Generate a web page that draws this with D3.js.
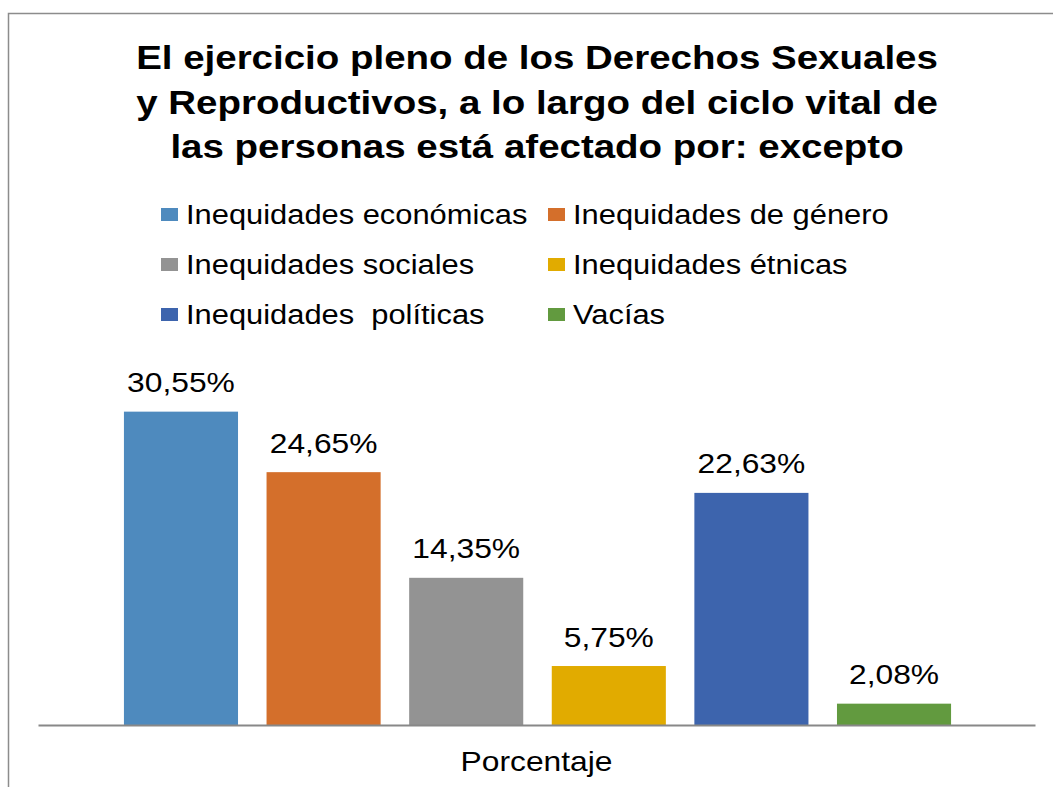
<!DOCTYPE html>
<html>
<head>
<meta charset="utf-8">
<script src="https://cdnjs.cloudflare.com/ajax/libs/d3/7.8.5/d3.min.js"></script>
<style>
  html, body { margin: 0; padding: 0; background: #fff; }
  svg { display: block; }
  text { font-family: "Liberation Sans", Arial, sans-serif; }
</style>
</head>
<body>
<svg id="chart" width="1053" height="787"></svg>
<script>
const titleLines = [
  "El ejercicio pleno de los Derechos Sexuales",
  "y Reproductivos, a lo largo del ciclo vital de",
  "las personas está afectado por: excepto"
];
const categories = ["Porcentaje"];
const seriesNames = [
  "Inequidades económicas",
  "Inequidades de género",
  "Inequidades sociales",
  "Inequidades étnicas",
  "Inequidades  políticas",
  "Vacías"
];
const seriesValues = [30.55, 24.65, 14.35, 5.75, 22.63, 2.08];
const valueLabels = ["30,55%", "24,65%", "14,35%", "5,75%", "22,63%", "2,08%"];
const seriesColors = ["#4e8abe", "#d46f2b", "#939393", "#e1ab00", "#3d64ad", "#629a3f"];

const SX = 1.135; // horizontal stretch of the reference text

const svg = d3.select("#chart");

// outer frame
svg.append("rect")
  .attr("x", 8.5).attr("y", 13.5)
  .attr("width", 1100).attr("height", 900)
  .attr("fill", "#fff")
  .attr("stroke", "#8c8c8c").attr("stroke-width", 1.5);

function stretchedText(parent, x, yy, str, size, anchor, weight) {
  const g = parent.append("g").attr("transform", `translate(${x},${yy}) scale(${SX},1)`);
  return g.append("text")
    .attr("x", 0).attr("y", 0)
    .attr("text-anchor", anchor)
    .attr("font-size", size)
    .attr("font-weight", weight || "normal")
    .attr("fill", "#000")
    .attr("xml:space", "preserve")
    .style("white-space", "pre")
    .text(str);
}

// title
titleLines.forEach((t, i) => {
  stretchedText(svg, 537, 69 + i * 44.5, t, 33.9, "middle", "bold");
});

// legend
const legendCols = [161, 548];
const legendRows = [215, 265, 315];
const legend = svg.append("g");
seriesNames.forEach((name, i) => {
  const cx = legendCols[i % 2], cy = legendRows[Math.floor(i / 2)];
  legend.append("rect")
    .attr("x", cx).attr("y", cy - 7)
    .attr("width", 17).attr("height", 13)
    .attr("fill", seriesColors[i]);
  stretchedText(legend, cx + 25, cy + 9, name, 27.2, "start");
});

// scales
const x0 = d3.scaleBand().domain(categories).range([38, 1035])
  .paddingInner(0).paddingOuter(0.0826);
const x1 = d3.scaleBand().domain(seriesNames).range([0, x0.bandwidth()])
  .paddingInner(0.2).paddingOuter(0.1);
const y = d3.scaleLinear().domain([0, 35]).range([725, 366]);

const data = seriesNames.map((n, i) => ({ n, v: seriesValues[i], c: seriesColors[i], l: valueLabels[i] }));

// bars
const groups = svg.append("g").selectAll("g").data(categories).join("g")
  .attr("transform", d => `translate(${x0(d) + 1},0)`);
groups.selectAll("rect")
  .data(data)
  .join("rect")
  .attr("x", d => x1(d.n))
  .attr("y", d => y(d.v))
  .attr("width", x1.bandwidth())
  .attr("height", d => y(0) - y(d.v))
  .attr("fill", d => d.c);

groups.each(function () {
  const g = d3.select(this);
  data.forEach(d => {
    stretchedText(g, x1(d.n) + x1.bandwidth() / 2, y(d.v) - 19.5, d.l, 28, "middle");
  });
});

// axis
const axis = svg.append("g")
  .attr("transform", `translate(0,${y(0)})`)
  .call(d3.axisBottom(x0).tickSize(0).tickSizeOuter(0).tickPadding(26));
axis.select(".domain").attr("stroke", "#888").attr("stroke-width", 2);
axis.selectAll(".tick text")
  .attr("font-size", 28)
  .attr("fill", "#000")
  .attr("transform", `scale(${SX},1)`)
  .style("font-family", "'Liberation Sans', Arial, sans-serif");
</script>
</body>
</html>
